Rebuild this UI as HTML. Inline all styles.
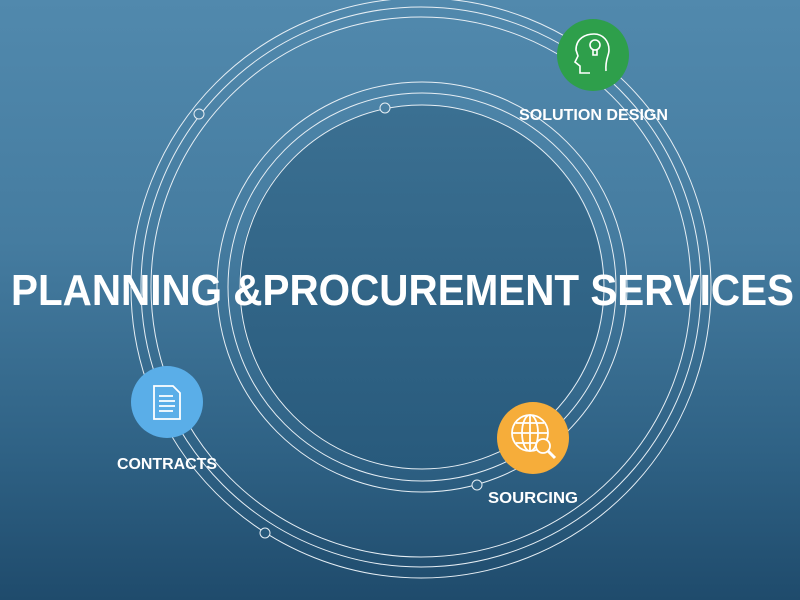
<!DOCTYPE html>
<html><head><meta charset="utf-8"><style>
html,body{margin:0;padding:0;width:800px;height:600px;overflow:hidden}
body{background:linear-gradient(#5189ad 0%,#457ca0 40%,#2f6285 75%,#1f4b6c 100%)}
svg{display:block}
</style></head><body>
<svg width="800" height="600" viewBox="0 0 800 600" xmlns="http://www.w3.org/2000/svg">
<defs>
<linearGradient id="inner" x1="0" y1="0" x2="0" y2="1">
<stop offset="0" stop-color="#3b7092"/><stop offset="1" stop-color="#285a7c"/>
</linearGradient>
</defs>
<circle cx="421" cy="287" r="182" fill="url(#inner)"/>
<g fill="none" stroke="#e6eef4" stroke-width="1">
<circle cx="421" cy="288" r="290"/>
<circle cx="421" cy="287" r="280"/>
<circle cx="421" cy="287" r="270"/>
<circle cx="422" cy="287" r="205"/>
<circle cx="422" cy="287" r="194"/>
<circle cx="422" cy="287" r="182"/>
</g>
<g fill="#4a80a3" stroke="#e6eef4" stroke-width="1">
<circle cx="199" cy="114" r="5"/>
<circle cx="385" cy="108" r="5"/>
<circle cx="477" cy="485" r="5" fill="#2f6285"/>
<circle cx="265" cy="533" r="5" fill="#285a7c"/>
</g>
<circle cx="593" cy="55" r="36" fill="#2e9f4b"/>
<g fill="none" stroke="#fff" stroke-width="1.6">
<path d="M590 73 L580 73 L580 66 L575 62 L578 56 L576 50 C576 38 586 34 594 34 C603 34 609 41 609 50 C609 56 605 59 606 71"/>
<circle cx="595" cy="45" r="5"/>
<path d="M593 50 V55 H597 V50"/>
</g>
<circle cx="167" cy="402" r="36" fill="#5aaee8"/>
<g fill="none" stroke="#fff" stroke-width="1.8">
<path d="M154 386 H173 L180 393 V419 H154 Z"/>
<path d="M159 396 H173 M159 401 H175 M159 406 H175 M159 411 H173"/>
</g>
<circle cx="533" cy="438" r="36" fill="#f6ad3a"/>
<g fill="none" stroke="#fff" stroke-width="1.8">
<circle cx="530" cy="433" r="18"/>
<ellipse cx="530" cy="433" rx="8" ry="18"/>
<path d="M512 433 H548 M516 423 H544 M516 443 H540 M530 415 V451"/>
<circle cx="543" cy="446" r="7" fill="#f6ad3a"/>
<path d="M548 451 L555 458" stroke-width="3"/>
</g>
<g font-family="Liberation Sans, sans-serif" font-weight="bold" fill="#fff">
<text x="11" y="305" font-size="44" textLength="783" lengthAdjust="spacingAndGlyphs">PLANNING &amp;PROCUREMENT SERVICES</text>
<text x="519" y="120" font-size="16" textLength="149" lengthAdjust="spacingAndGlyphs">SOLUTION DESIGN</text>
<text x="117" y="469" font-size="16" textLength="100" lengthAdjust="spacingAndGlyphs">CONTRACTS</text>
<text x="488" y="503" font-size="16" textLength="90" lengthAdjust="spacingAndGlyphs">SOURCING</text>
</g>
</svg>
</body></html>
